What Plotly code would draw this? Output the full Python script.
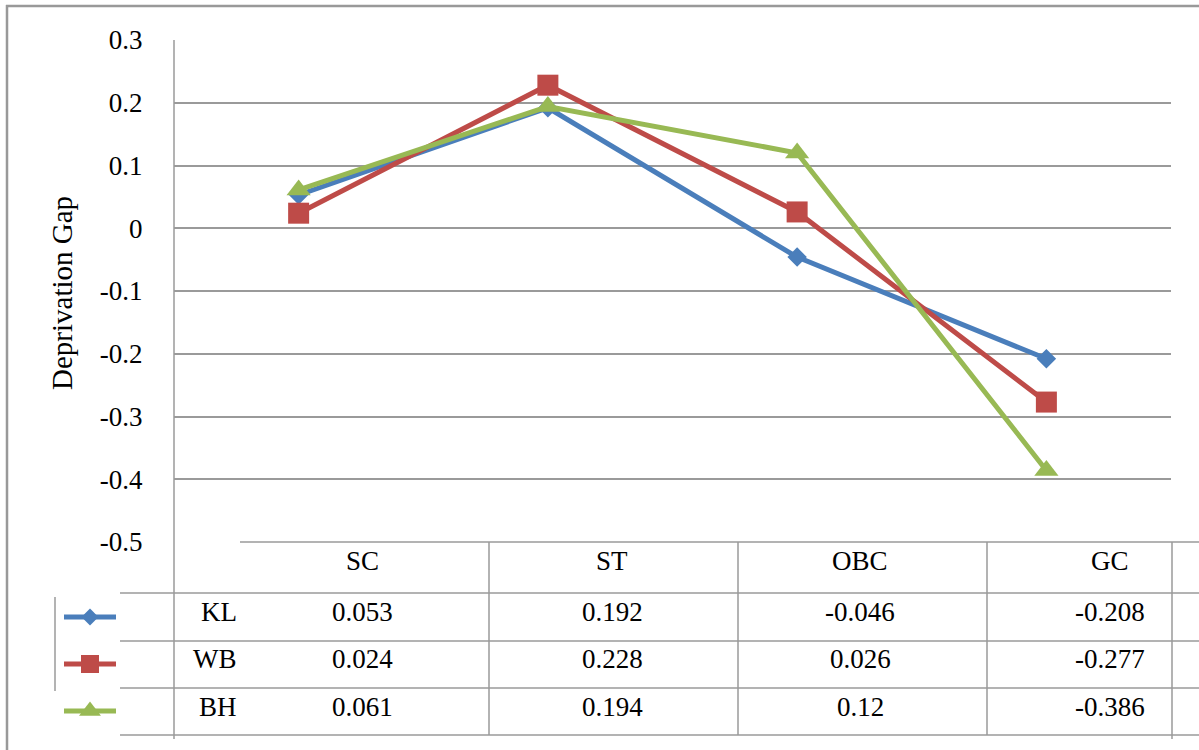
import plotly.graph_objects as go

categories = ["SC", "ST", "OBC", "GC"]
series_names = ["KL", "WB", "BH"]
kl_values = [0.053, 0.192, -0.046, -0.208]
wb_values = [0.024, 0.228, 0.026, -0.277]
bh_values = [0.061, 0.194, 0.12, -0.386]
table_text = {
    "KL": ["0.053", "0.192", "-0.046", "-0.208"],
    "WB": ["0.024", "0.228", "0.026", "-0.277"],
    "BH": ["0.061", "0.194", "0.12", "-0.386"],
}
y_tickvals = [0.3, 0.2, 0.1, 0, -0.1, -0.2, -0.3, -0.4, -0.5]
y_ticktext = ["0.3", "0.2", "0.1", "0", "-0.1", "-0.2", "-0.3", "-0.4", "-0.5"]
y_title = "Deprivation Gap"

colors = ["#4A7EBB", "#BE4B48", "#98B954"]
symbols = ["diamond", "square", "triangle-up"]
msizes = [15, 21, 21]
leg_sizes = [13, 18, 19]

W, H = 1199, 750
FONT = "Liberation Serif"
FS = 27


def px(x):
    return x / W


def py(y):
    return 1 - y / H


fig = go.Figure()
all_values = [kl_values, wb_values, bh_values]
for name, vals, c, s, ms in zip(series_names, all_values, colors, symbols, msizes):
    fig.add_trace(go.Scatter(
        x=categories, y=vals, name=name, mode="lines+markers",
        line=dict(color=c, width=5),
        marker=dict(symbol=s, size=ms, color=c, line=dict(width=0)),
        showlegend=False, cliponaxis=False,
    ))

# legend glyphs inside the table (overlay axis in pixel space)
leg_y = [617, 664, 711]
for name, c, s, ms, ly in zip(series_names, colors, symbols, leg_sizes, leg_y):
    fig.add_trace(go.Scatter(
        x=[64, 90, 116], y=[ly, ly, ly], mode="lines",
        line=dict(color=c, width=5), xaxis="x2", yaxis="y2",
        showlegend=False, hoverinfo="skip",
    ))
    fig.add_trace(go.Scatter(
        x=[90], y=[ly], mode="markers",
        marker=dict(symbol=s, size=ms, color=c, line=dict(width=0)),
        xaxis="x2", yaxis="y2", showlegend=False, hoverinfo="skip",
    ))

grid_color = "#9a9a9a"
fig.update_layout(
    width=W, height=H, autosize=False,
    margin=dict(l=0, r=0, t=0, b=0, pad=0),
    paper_bgcolor="white", plot_bgcolor="rgba(0,0,0,0)",
    font=dict(family=FONT, size=FS, color="black"),
    xaxis=dict(
        domain=[px(174), px(1171)], range=[-0.5, 3.5], type="category",
        showgrid=False, showticklabels=False, showline=False, zeroline=False,
        automargin=False,
    ),
    yaxis=dict(
        domain=[py(542), py(40)], range=[-0.5, 0.3],
        tickvals=y_tickvals, ticktext=y_ticktext,
        showgrid=True, gridcolor=grid_color, gridwidth=1.5,
        zeroline=False, showline=False, automargin=False,
        ticks="outside", ticklen=25, tickcolor="rgba(0,0,0,0)",
        tickfont=dict(family=FONT, size=FS, color="black"),
    ),
    xaxis2=dict(domain=[0, 1], range=[0, W], visible=False, fixedrange=True,
                anchor="y2", automargin=False),
    yaxis2=dict(domain=[0, 1], range=[H, 0], visible=False, fixedrange=True,
                anchor="x2", automargin=False),
)

shapes = []
line_c = "#9a9a9a"


def hline(x0, x1, y, color=line_c, w=1.5):
    shapes.append(dict(type="line", xref="paper", yref="paper",
                       x0=px(x0), x1=px(x1), y0=py(y), y1=py(y),
                       line=dict(color=color, width=w)))


def vline(x, y0, y1, color=line_c, w=1.5):
    shapes.append(dict(type="line", xref="paper", yref="paper",
                       x0=px(x), x1=px(x), y0=py(y0), y1=py(y1),
                       line=dict(color=color, width=w)))


# cover the -0.5 gridline left of the table
shapes.append(dict(type="rect", xref="paper", yref="paper",
                   x0=px(175), x1=px(239), y0=py(540), y1=py(545),
                   line=dict(width=0), fillcolor="white"))
# outer frame
hline(6, W, 6, color="#999999", w=2.5)
vline(7, 5, H, color="#999999", w=2.5)
# y axis line
vline(174, 40, 739)
# table
hline(240, W, 542)
for yy in [593, 641, 688, 735]:
    hline(120, W, yy)
for xx in [489, 738, 987]:
    vline(xx, 542, 735)
vline(1172, 542, 739)
vline(55, 597, 691)
fig.update_layout(shapes=shapes)

ann = []
col_x = [362, 612, 860, 1110]
for cat, cx in zip(categories, col_x):
    ann.append(dict(x=px(cx), y=py(561), xref="paper", yref="paper", text=cat,
                    showarrow=False, xanchor="center", yanchor="middle"))
row_y = [612, 659, 707]
for name, ry in zip(series_names, row_y):
    ann.append(dict(x=px(239), y=py(ry), xref="paper", yref="paper", text=name,
                    showarrow=False, xanchor="right", yanchor="middle"))
    for txt, cx in zip(table_text[name], col_x):
        ann.append(dict(x=px(cx), y=py(ry), xref="paper", yref="paper", text=txt,
                        showarrow=False, xanchor="center", yanchor="middle"))
ann.append(dict(x=px(62), y=py(293), xref="paper", yref="paper", text=y_title,
                textangle=-90, showarrow=False, xanchor="center", yanchor="middle",
                font=dict(size=29)))
fig.update_layout(annotations=ann)

fig.write_html("out.html", config={"displayModeBar": False},
               post_script="document.body.style.margin='0';document.body.style.overflow='hidden';")
